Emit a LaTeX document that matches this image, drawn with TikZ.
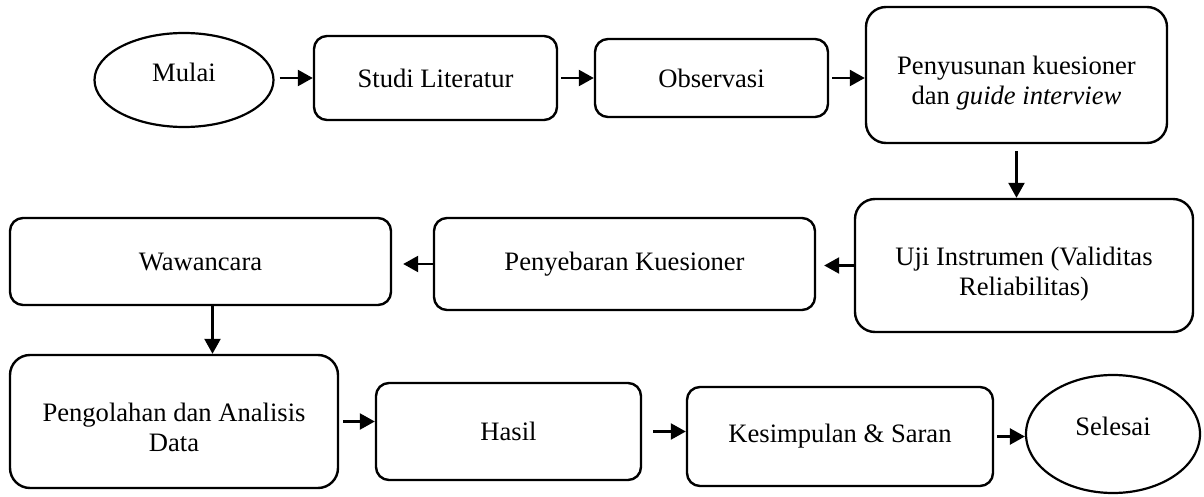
\documentclass[tikz,border=0pt]{standalone}
\usepackage{fontspec}
\setmainfont{Liberation Serif}
\usepackage{tikz}
\usetikzlibrary{calc, arrows.meta, shapes.geometric}
\tikzset{
  teks/.style = {align=center, inner sep=2pt, text centered,
    font=\fontsize{13.3}{15}\selectfont},
  kotak/.style = {teks, rectangle, draw=black, line width=1.2pt,
    rounded corners=6.5pt},% kotak proses
  kotak_besar/.style = {kotak, rounded corners=10pt,
    text height=33pt, text depth=3pt},% kotak proses, dua baris
  elips/.style = {teks, ellipse, draw=black, line width=1.1pt,
    text height=0.7em, text depth=0.58em},% mulai / selesai
  panah/.style = {-{Triangle[length=7.5pt,width=8pt]}, line width=1.2pt}
}
\begin{document}
\begin{tikzpicture}[x=0.5pt, y=-0.5pt]
\useasboundingbox (0,0) rectangle (1204,497);

% baris 1
\node[elips, minimum width=89.5pt, minimum height=47pt] (mulai) at (184,80) {Mulai};
\node[kotak, minimum width=121.5pt, minimum height=42pt] (studi) at (435.5,78) {Studi Literatur};
\node[kotak, minimum width=116.5pt, minimum height=39pt] (obs) at (711.5,78) {Observasi};
\node[kotak_besar, minimum width=150.5pt, minimum height=68pt] (susun) at (1016.5,75)
	{Penyusunan kuesioner\\ dan \textit{guide interview}};
% baris 2
\node[kotak_besar, minimum width=169pt, minimum height=66.5pt] (uji) at (1024,265.5)
	{Uji Instrumen (Validitas\\ Reliabilitas)};
\node[kotak, minimum width=190.5pt, minimum height=46pt] (sebar) at (624.5,264) {Penyebaran Kuesioner};
\node[kotak, minimum width=190.5pt, minimum height=43.5pt] (wawan) at (200.5,261.5) {Wawancara};
% baris 3
\node[kotak_besar, minimum width=164pt, minimum height=66.5pt] (olah) at (174,421.5)
	{Pengolahan dan Analisis\\ Data};
\node[kotak, minimum width=132.5pt, minimum height=48.5pt] (hasil) at (508.5,431.5) {Hasil};
\node[kotak, minimum width=153pt, minimum height=49.5pt] (simpul) at (840,436.5) {Kesimpulan \& Saran};
\node[elips, minimum width=87pt, minimum height=59pt] (selesai) at (1113,434) {Selesai};

\draw[panah, shorten <=2.5pt] (mulai.east |- studi.west) -- (studi.west);
\draw[panah, shorten <=1.5pt] (studi.east) -- (obs.west);
\draw[panah, shorten <=1.5pt] (obs.east) -- (obs.east -| susun.west);
\draw[panah, shorten <=3.5pt] (susun.south) -- (susun.south |- uji.north);
\draw[panah, shorten >=4pt] (uji.west) -- (uji.west -| sebar.east);
\draw[panah, shorten >=5.5pt] (sebar.west) -- (sebar.west -| wawan.east);
\draw[panah] ([xshift=6pt]wawan.south) -- ([xshift=6pt]wawan.south |- olah.north);
\draw[panah, shorten <=2pt] (olah.east) -- (olah.east -| hasil.west);
\draw[panah, shorten <=5.5pt] (hasil.east) -- (hasil.east -| simpul.west);
\draw[panah, shorten <=1.5pt] (simpul.east) -- (simpul.east -| selesai.west);
\end{tikzpicture}
\end{document}
